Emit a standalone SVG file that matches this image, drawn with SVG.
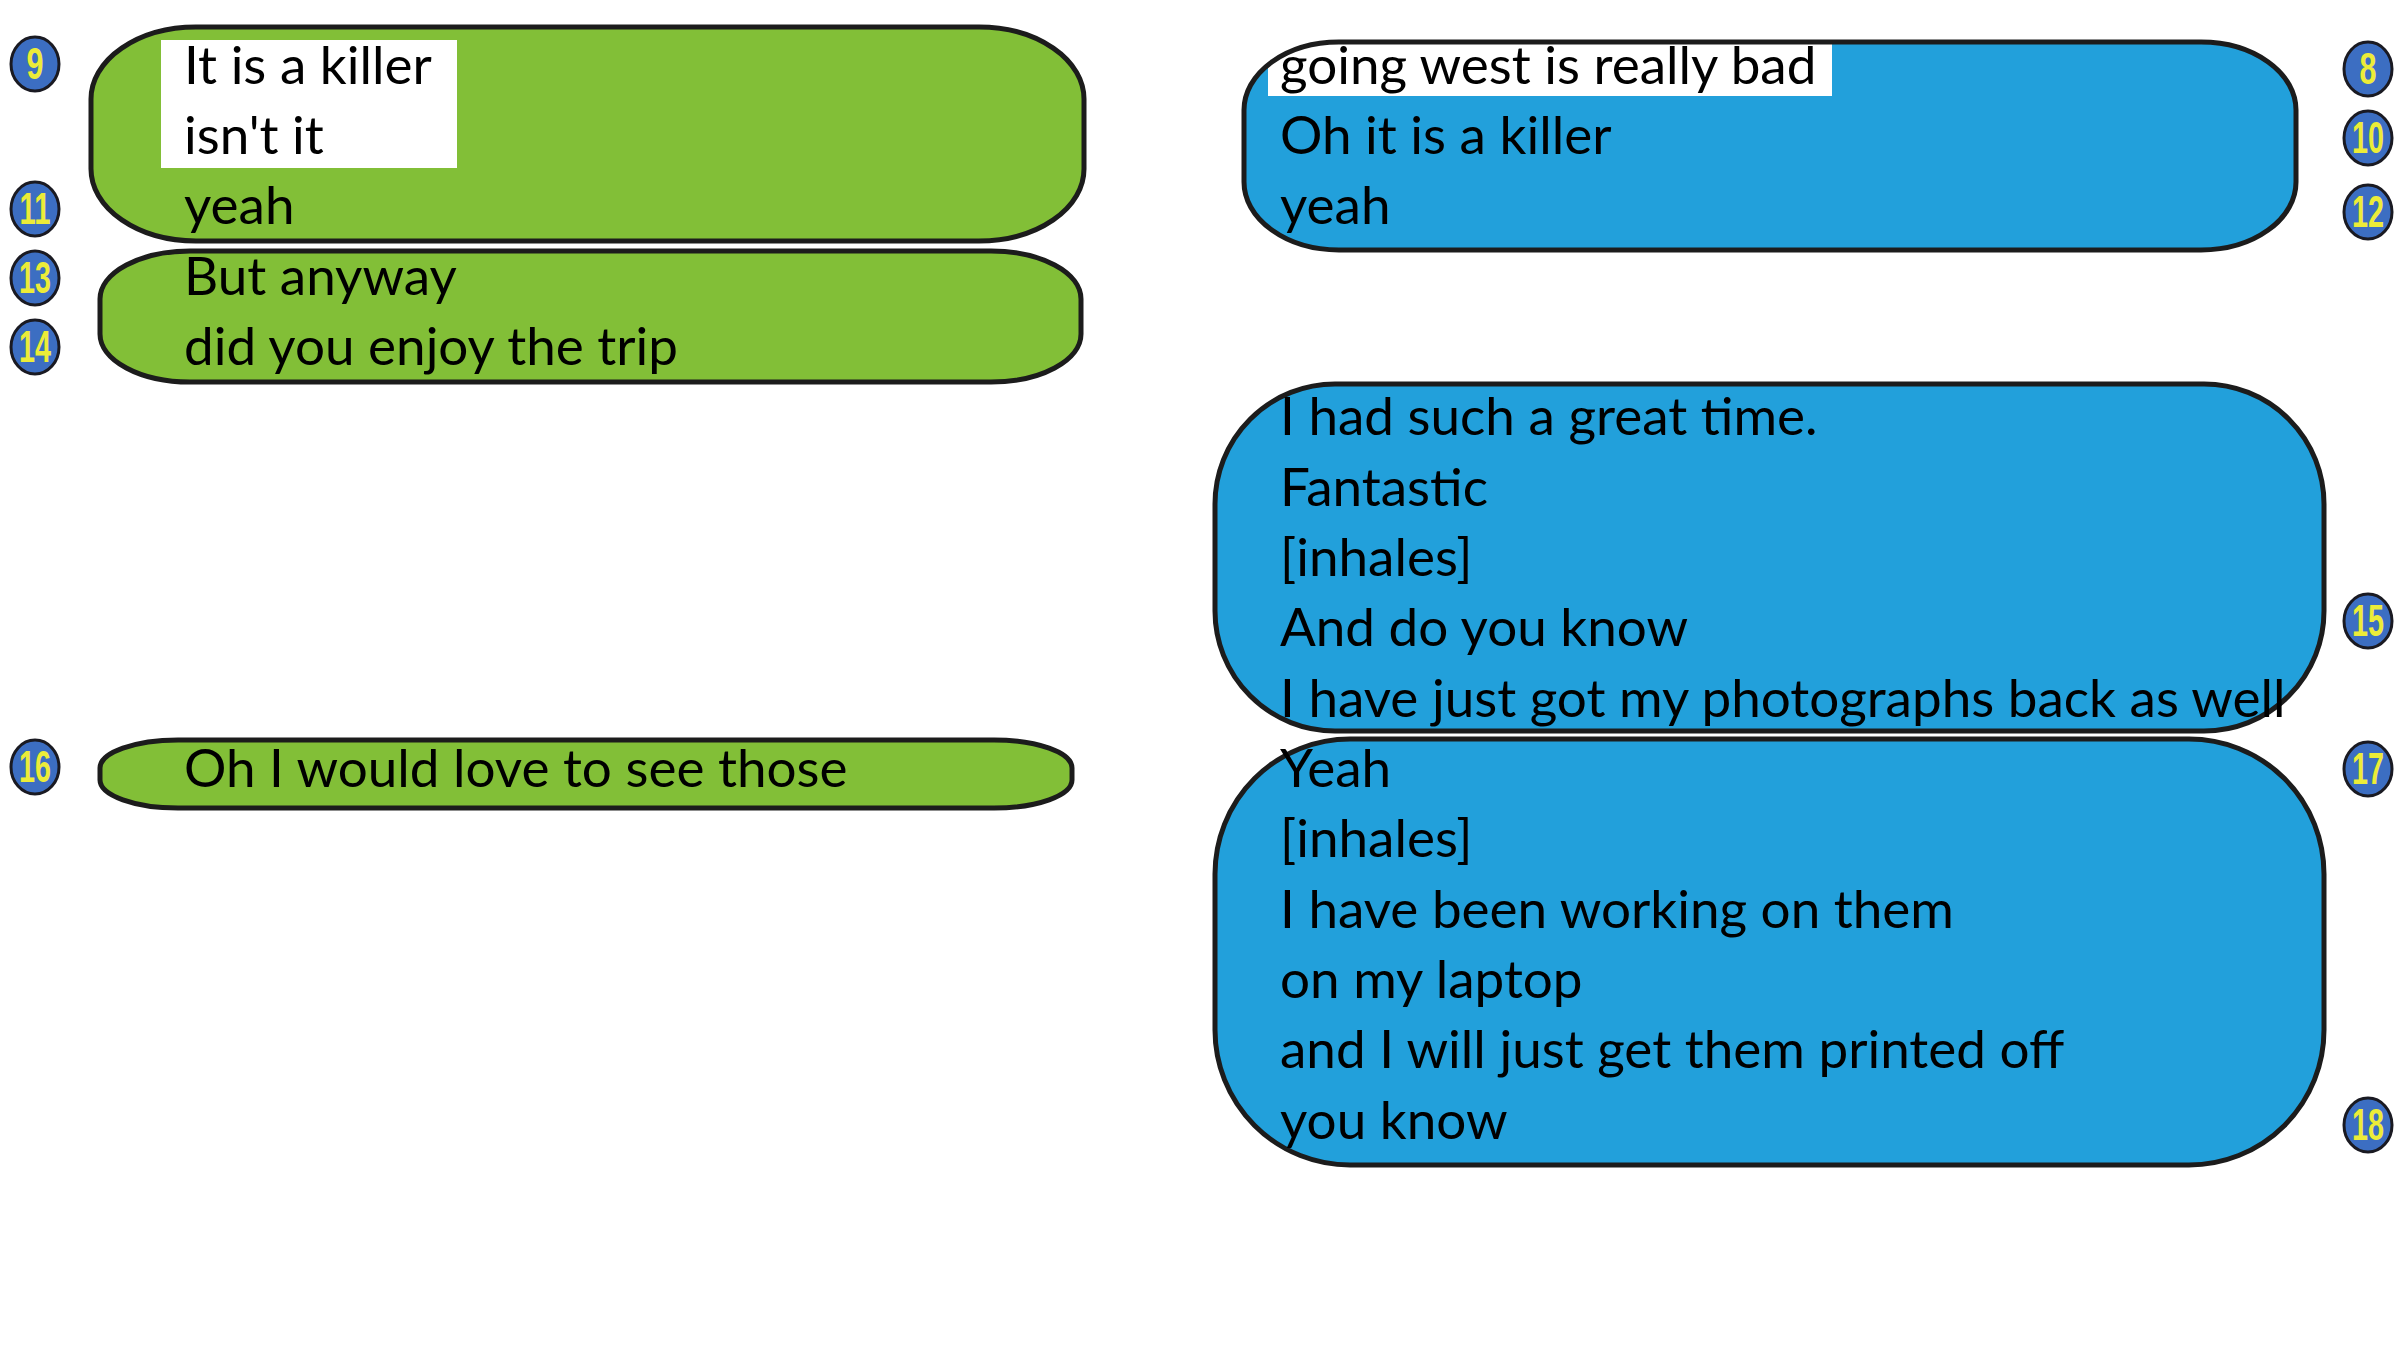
<svg xmlns="http://www.w3.org/2000/svg" width="2400" height="1350" viewBox="0 0 2400 1350">
<style>
.g{fill:#82bf37}
.b{fill:#22a0db}
.ol{fill:none;stroke:#1c1c1c;stroke-width:5}
.t{font-family:Lato,"Open Sans",sans-serif;font-size:53px;fill:#000}
.bd{fill:#3c6ec2;stroke:#1a1a22;stroke-width:3}
.bn{font-family:"Liberation Sans",Arial,sans-serif;font-weight:bold;font-size:44px;fill:#ecec38;text-anchor:middle}
</style>
<rect width="2400" height="1350" fill="#fff"/>
<g id="connectors"></g>

<g id="bubble-green-1">
<rect class="g" x="91" y="27" width="993" height="214" rx="105" ry="72"/>
<rect x="161" y="40" width="296" height="128" fill="#fff"/>
<rect class="ol" x="91" y="27" width="993" height="214" rx="105" ry="72"/>
<text class="t" x="184" y="84">It is a killer</text>
<text class="t" x="184" y="154">isn't it</text>
<text class="t" x="184" y="224">yeah</text>
</g>

<g id="bubble-green-2">
<rect class="g" x="100" y="251" width="981" height="131" rx="90" ry="48"/>
<rect class="ol" x="100" y="251" width="981" height="131" rx="90" ry="48"/>
<text class="t" x="184" y="295">But anyway</text>
<text class="t" x="184" y="365">did you enjoy the trip</text>
</g>

<g id="bubble-green-3">
<rect class="g" x="100" y="740" width="972" height="68" rx="78" ry="28"/>
<rect class="ol" x="100" y="740" width="972" height="68" rx="78" ry="28"/>
<text class="t" x="184" y="787">Oh I would love to see those</text>
</g>

<g id="bubble-blue-1">
<rect class="b" x="1244" y="42" width="1052" height="208" rx="95" ry="68"/>
<rect x="1268" y="43" width="564" height="53" fill="#fff"/>
<rect class="ol" x="1244" y="42" width="1052" height="208" rx="95" ry="68"/>
<text class="t" x="1280" y="84">going west is really bad</text>
<text class="t" x="1280" y="154">Oh it is a killer</text>
<text class="t" x="1280" y="224">yeah</text>
</g>

<g id="bubble-blue-2">
<rect class="b" x="1215" y="384" width="1109" height="347" rx="120" ry="120"/>
<rect class="ol" x="1215" y="384" width="1109" height="347" rx="120" ry="120"/>
<text class="t" x="1280" y="435">I had such a great time.</text>
<text class="t" x="1280" y="506">Fantastic</text>
<text class="t" x="1280" y="576">[inhales]</text>
<text class="t" x="1280" y="646">And do you know</text>
<text class="t" x="1280" y="717">I have just got my photographs back as well</text>
</g>

<g id="bubble-blue-3">
<rect class="b" x="1215" y="739" width="1109" height="426" rx="135" ry="135"/>
<rect class="ol" x="1215" y="739" width="1109" height="426" rx="135" ry="135"/>
<text class="t" x="1280" y="787">Yeah</text>
<text class="t" x="1280" y="857">[inhales]</text>
<text class="t" x="1280" y="928">I have been working on them</text>
<text class="t" x="1280" y="998">on my laptop</text>
<text class="t" x="1280" y="1068">and I will just get them printed off</text>
<text class="t" x="1280" y="1139">you know</text>
</g>

<g id="badge-9"><ellipse class="bd" cx="35" cy="64" rx="24" ry="27"/><text class="bn" x="35" y="79" textLength="17" lengthAdjust="spacingAndGlyphs">9</text></g>
<g id="badge-11"><ellipse class="bd" cx="35" cy="209" rx="24" ry="27"/><text class="bn" x="35" y="224" textLength="31" lengthAdjust="spacingAndGlyphs">11</text></g>
<g id="badge-13"><ellipse class="bd" cx="35" cy="278" rx="24" ry="27"/><text class="bn" x="35" y="293" textLength="32" lengthAdjust="spacingAndGlyphs">13</text></g>
<g id="badge-14"><ellipse class="bd" cx="35" cy="347" rx="24" ry="27"/><text class="bn" x="35" y="362" textLength="32" lengthAdjust="spacingAndGlyphs">14</text></g>
<g id="badge-16"><ellipse class="bd" cx="35" cy="767" rx="24" ry="27"/><text class="bn" x="35" y="782" textLength="32" lengthAdjust="spacingAndGlyphs">16</text></g>

<g id="badge-8"><ellipse class="bd" cx="2368" cy="69" rx="24" ry="27"/><text class="bn" x="2368" y="84" textLength="17" lengthAdjust="spacingAndGlyphs">8</text></g>
<g id="badge-10"><ellipse class="bd" cx="2368" cy="138" rx="24" ry="27"/><text class="bn" x="2368" y="153" textLength="32" lengthAdjust="spacingAndGlyphs">10</text></g>
<g id="badge-12"><ellipse class="bd" cx="2368" cy="212" rx="24" ry="27"/><text class="bn" x="2368" y="227" textLength="32" lengthAdjust="spacingAndGlyphs">12</text></g>
<g id="badge-15"><ellipse class="bd" cx="2368" cy="621" rx="24" ry="27"/><text class="bn" x="2368" y="636" textLength="32" lengthAdjust="spacingAndGlyphs">15</text></g>
<g id="badge-17"><ellipse class="bd" cx="2368" cy="769" rx="24" ry="27"/><text class="bn" x="2368" y="784" textLength="32" lengthAdjust="spacingAndGlyphs">17</text></g>
<g id="badge-18"><ellipse class="bd" cx="2368" cy="1125" rx="24" ry="27"/><text class="bn" x="2368" y="1140" textLength="32" lengthAdjust="spacingAndGlyphs">18</text></g>
</svg>
